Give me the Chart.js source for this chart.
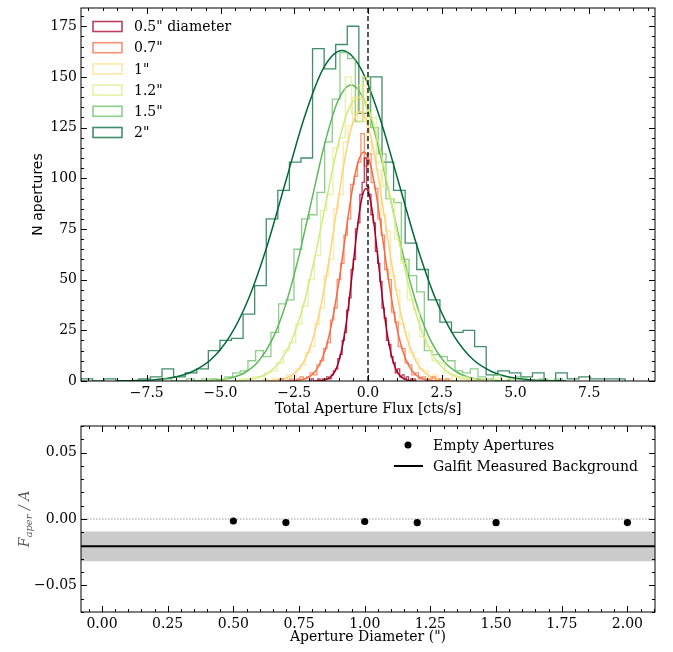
<!DOCTYPE html>
<html>
<head>
<meta charset="utf-8">
<script src="https://cdn.jsdelivr.net/npm/chart.js@4.4.1/dist/chart.umd.min.js"></script>
<style>
  html, body { margin: 0; padding: 0; background: #fff; }
  #wrap { position: relative; width: 673px; height: 652px; }
  canvas { position: absolute; left: 0; }
  #top { top: 0; }
  #bottom { top: 420px; }
</style>
</head>
<body>
<div id="wrap">
  <canvas id="top" width="673" height="420"></canvas>
  <canvas id="bottom" width="673" height="232"></canvas>
</div>
<script>
// ---- top panel: empty-aperture flux histograms ----
const apertureLabels = ['0.5" diameter', '0.7"', '1"', '1.2"', '1.5"', '2"'];
const histLo = [-2.0, -3.0, -4.2, -5.6, -7.19, -9.73];
const histWidth = [0.075, 0.115, 0.16, 0.21, 0.26, 0.3925];

const counts05 = [0,1,0,0,1,0,1,1,2,1,3,5,6,11,13,20,24,35,41,55,60,75,78,92,98,110,96,92,82,78,64,58,49,36,31,20,18,12,9,4,6,2,3,1,2,0,1,1];
const counts07 = [1,0,0,1,0,1,2,1,2,4,3,8,10,16,19,30,36,50,58,72,80,97,101,108,122,106,112,98,95,80,72,55,50,34,29,17,16,9,8,3,4,1,2,0,1,2,0,1,0,1];
const counts10 = [0,1,0,0,1,0,1,0,1,3,2,6,8,14,17,28,36,52,60,85,92,118,126,140,128,150,118,112,104,82,74,52,45,28,24,14,11,6,5,2,3,1,1,0,2,0,1,0,1,0,0,1];
const counts12 = [1,0,0,1,0,0,1,1,2,2,4,5,9,15,19,28,37,50,62,84,92,115,120,150,132,146,128,130,108,96,90,70,58,40,35,22,17,10,9,4,3,2,2,1,0,1,0,1,0,1];
const counts15 = [0,1,0,0,1,0,1,1,0,2,4,5,10,15,12,24,38,40,65,80,82,93,118,139,162,159,128,150,125,112,90,88,60,52,44,15,13,12,10,5,4,6,2,1,3,0,1,2,0,0,1,0,1];
const counts20 = [1,0,1,0,0,1,2,6,2,4,6,15,20,21,33,47,80,94,108,110,164,154,166,175,132,150,108,94,68,55,40,29,24,25,17,3,5,4,2,4,0,4,1,2,1,1,1];

// gaussian fits
const fitStart = [-1.79, -2.76, -3.59, -4.92, -5.97, -8.48];
const fitStep = [0.1433, 0.2183, 0.2767, 0.3833, 0.45, 0.6333];
const fit05 = [0.03,0.11,0.37,1.05,2.7,6.2,12.9,23.7,39.1,57.6,76.1,89.9,95,89.9,76.1,57.6,39.1,23.7,12.9,6.2,2.7,1.05,0.37,0.11,0.03];
const fit07 = [0.04,0.14,0.44,1.25,3.2,7.4,15.3,28.2,46.5,68.5,90.5,106.9,113,106.9,90.5,68.5,46.5,28.2,15.3,7.4,3.2,1.25,0.44,0.14,0.04];
const fit10 = [0.04,0.16,0.51,1.48,3.8,8.7,18.0,33.2,54.7,80.7,106.5,125.8,133,125.8,106.5,80.7,54.7,33.2,18.0,8.7,3.8,1.48,0.51,0.16,0.04];
const fit12 = [0.05,0.17,0.54,1.55,4.0,9.2,18.9,34.9,57.6,84.9,112.1,132.4,140,132.4,112.1,84.9,57.6,34.9,18.9,9.2,4.0,1.55,0.54,0.17,0.05];
const fit15 = [0.05,0.18,0.57,1.62,4.2,9.6,19.8,36.4,60.0,88.5,116.9,138.1,146,138.1,116.9,88.5,60.0,36.4,19.8,9.6,4.2,1.62,0.57,0.18,0.05];
const fit20 = [0.05,0.20,0.63,1.81,4.7,10.7,22.1,40.7,67.0,98.9,130.5,154.2,163,154.2,130.5,98.9,67.0,40.7,22.1,10.7,4.7,1.81,0.63,0.20,0.05];

const fluxTicks = [-7.5, -5, -2.5, 0, 2.5, 5, 7.5];
const countTicks = [0, 25, 50, 75, 100, 125, 150, 175];
const fluxRange = [-9.73, 9.73];
const countRange = [0, 184];
const zeroFlux = 0;

// ---- bottom panel: flux per area vs aperture ----
const diameters = [0.5, 0.7, 1.0, 1.2, 1.5, 2.0];
const fluxPerArea = [-0.0015, -0.0027, -0.0019, -0.0028, -0.0028, -0.0027];
const galfitBg = -0.0205;
const galfitLo = -0.0318;
const galfitHi = -0.0095;
const diamTicks = [0, 0.25, 0.5, 0.75, 1.0, 1.25, 1.5, 1.75, 2.0];
const fpaTicks = [-0.05, 0, 0.05];
const diamRange = [-0.08, 2.105];
const fpaRange = [-0.07, 0.07];

const histColors = ['rgba(165,0,38,0.75)', 'rgba(244,109,67,0.75)', 'rgba(254,224,139,0.75)',
                    'rgba(217,239,139,0.75)', 'rgba(102,189,99,0.75)', 'rgba(0,104,55,0.75)'];
const fitColors = ['#a50026', '#f46d43', '#fdd27c', '#d2ea7f', '#5fb95c', '#006837'];

Chart.defaults.font.family = 'DejaVu Serif';
Chart.defaults.font.size = 14;
Chart.defaults.color = '#000';

const minus = v => String(v).replace('-', '\u2212');
const fmt = d => v => minus(Number(v).toFixed(d));

function stepPoints(lo, w, counts) {
  const pts = [{x: lo, y: 0}];
  counts.forEach((c, i) => pts.push({x: lo + i * w, y: c}));
  pts.push({x: lo + counts.length * w, y: 0});
  return pts;
}

// fixed axis boxes so the plot area lands where the reference has it
const fixX = h => s => { s.height = h; s.paddingLeft = 0; s.paddingRight = 0; };
const fixY = w => s => { s.width = w; s.paddingTop = 0; s.paddingBottom = 0; };

// matplotlib-like frame with inward ticks on all four sides
const frameTicks = {
  id: 'frameTicks',
  afterDatasetsDraw(chart, args, opts) {
    const {ctx, chartArea: a, scales: {x, y}} = chart;
    ctx.save();
    ctx.strokeStyle = '#000';
    ctx.lineWidth = 1;
    ctx.strokeRect(a.left, a.top, a.right - a.left, a.bottom - a.top);
    const minorVals = (s, step) => {
      const out = [];
      for (let v = Math.ceil(s.min / step) * step; v <= s.max + 1e-9; v += step) out.push(v);
      return out;
    };
    ctx.beginPath();
    const drawX = (vals, len) => vals.forEach(v => {
      const px = Math.round(x.getPixelForValue(v)) + 0.5;
      ctx.moveTo(px, a.bottom); ctx.lineTo(px, a.bottom - len);
      ctx.moveTo(px, a.top); ctx.lineTo(px, a.top + len);
    });
    const drawY = (vals, len) => vals.forEach(v => {
      const py = Math.round(y.getPixelForValue(v)) + 0.5;
      ctx.moveTo(a.left, py); ctx.lineTo(a.left + len, py);
      ctx.moveTo(a.right, py); ctx.lineTo(a.right - len, py);
    });
    drawX(minorVals(x, opts.xMinor), 3);
    drawY(minorVals(y, opts.yMinor), 3);
    drawX(x.ticks.map(t => t.value), 6);
    drawY(y.ticks.map(t => t.value), 6);
    ctx.stroke();
    ctx.restore();
  }
};

// axis titles
const axisTitles = {
  id: 'axisTitles',
  afterDraw(chart, args, opts) {
    const {ctx, chartArea: a} = chart;
    ctx.save();
    ctx.fillStyle = '#000';
    ctx.textAlign = 'center';
    ctx.textBaseline = 'middle';
    ctx.font = '14px "DejaVu Serif"';
    ctx.fillText(opts.xTitle, (a.left + a.right) / 2, a.bottom + opts.xTitleOffset);
    ctx.translate(opts.yTitleX, (a.top + a.bottom) / 2);
    ctx.rotate(-Math.PI / 2);
    if (opts.yTitle) {
      ctx.font = opts.yFont;
      ctx.fillText(opts.yTitle, 0, 0);
    } else {
      // F_aper / A in math italics
      ctx.fillStyle = '#5a5a5a';
      ctx.textAlign = 'left';
      const big = 'italic 14px "DejaVu Serif"', small = 'italic 10px "DejaVu Serif"';
      ctx.font = big; const wF = ctx.measureText('F').width;
      ctx.font = small; const wS = ctx.measureText('aper').width;
      ctx.font = big; const wR = ctx.measureText(' / A').width;
      const x0 = -(wF + wS + wR) / 2;
      ctx.fillText('F', x0, 0);
      ctx.font = small; ctx.fillText('aper', x0 + wF, 4);
      ctx.font = big; ctx.fillText(' / A', x0 + wF + wS, 0);
    }
    ctx.restore();
  }
};

// legend drawn inside the axes
const innerLegend = {
  id: 'innerLegend',
  afterDraw(chart, args, opts) {
    const {ctx, chartArea: a} = chart;
    ctx.save();
    ctx.font = '14px "DejaVu Serif"';
    ctx.textBaseline = 'middle';
    ctx.textAlign = 'left';
    opts.items.forEach((it, i) => {
      const cy = a.top + opts.top + i * opts.gap;
      const bx = a.left + opts.left;
      if (it.kind === 'box') {
        ctx.strokeStyle = it.color;
        ctx.lineWidth = 1.6;
        ctx.strokeRect(bx, cy - 5, 29, 10);
      } else if (it.kind === 'dot') {
        ctx.fillStyle = '#000';
        ctx.beginPath();
        ctx.arc(bx + 14, cy, 3.5, 0, Math.PI * 2);
        ctx.fill();
      } else {
        ctx.strokeStyle = '#000';
        ctx.lineWidth = 2;
        ctx.beginPath();
        ctx.moveTo(bx, cy); ctx.lineTo(bx + 29, cy);
        ctx.stroke();
      }
      ctx.fillStyle = '#000';
      ctx.fillText(it.label, bx + opts.textGap, cy + 1);
    });
    ctx.restore();
  }
};

const countSets = [counts05, counts07, counts10, counts12, counts15, counts20];
const fitSets = [fit05, fit07, fit10, fit12, fit15, fit20];

const topDatasets = [{
  data: [{x: zeroFlux, y: countRange[0]}, {x: zeroFlux, y: countRange[1]}],
  borderColor: '#000', borderWidth: 1.3, borderDash: [5, 3], pointRadius: 0
}];
for (let k = 0; k < 6; k++) {
  topDatasets.push({
    data: fitSets[k].map((v, i) => ({x: fitStart[k] + i * fitStep[k], y: v})),
    borderColor: fitColors[k], borderWidth: 1.5, pointRadius: 0,
    cubicInterpolationMode: 'monotone'
  });
  topDatasets.push({
    label: apertureLabels[k],
    data: stepPoints(histLo[k], histWidth[k], countSets[k]),
    borderColor: histColors[k], borderWidth: 1.3, pointRadius: 0, stepped: true
  });
}

new Chart(document.getElementById('top'), {
  type: 'line',
  data: {datasets: topDatasets},
  options: {
    responsive: false,
    animation: false,
    layout: {padding: {left: 0, right: 18, top: 8, bottom: 0}},
    plugins: {
      legend: {display: false},
      tooltip: {enabled: false},
      frameTicks: {xMinor: 0.5, yMinor: 5},
      axisTitles: {xTitle: 'Total Aperture Flux [cts/s]', xTitleOffset: 28,
                   yTitle: 'N apertures', yTitleX: 38, yFont: '14px "DejaVu Sans"'},
      innerLegend: {
        left: 12, top: 18.5, gap: 21.2, textGap: 41,
        items: apertureLabels.map((l, k) => ({kind: 'box', label: l, color: histColors[k]}))
      }
    },
    scales: {
      x: {
        type: 'linear', min: fluxRange[0], max: fluxRange[1],
        grid: {display: false, drawTicks: false}, border: {display: false},
        afterBuildTicks: s => { s.ticks = fluxTicks.map(v => ({value: v})); },
        ticks: {callback: fmt(1), padding: 4, maxRotation: 0, autoSkip: false},
        afterFit: fixX(39)
      },
      y: {
        type: 'linear', min: countRange[0], max: countRange[1],
        grid: {display: false, drawTicks: false}, border: {display: false},
        afterBuildTicks: s => { s.ticks = countTicks.map(v => ({value: v})); },
        ticks: {callback: v => String(v), padding: 4},
        afterFit: fixY(81)
      }
    }
  },
  plugins: [frameTicks, axisTitles, innerLegend]
});

new Chart(document.getElementById('bottom'), {
  type: 'line',
  data: {
    datasets: [
      {data: diameters.map((d, i) => ({x: d, y: fluxPerArea[i]})), showLine: false,
       pointRadius: 3.6, pointBackgroundColor: '#000', pointBorderWidth: 0},
      {data: [{x: diamRange[0], y: galfitBg}, {x: diamRange[1], y: galfitBg}],
       borderColor: '#000', borderWidth: 2, pointRadius: 0},
      {data: [{x: diamRange[0], y: 0}, {x: diamRange[1], y: 0}],
       borderColor: '#555', borderWidth: 0.6, borderDash: [1.5, 1.5], pointRadius: 0},
      {data: [{x: diamRange[0], y: galfitHi}, {x: diamRange[1], y: galfitHi}],
       borderWidth: 0, pointRadius: 0, fill: '+1', backgroundColor: '#cbcbcb'},
      {data: [{x: diamRange[0], y: galfitLo}, {x: diamRange[1], y: galfitLo}],
       borderWidth: 0, pointRadius: 0}
    ]
  },
  options: {
    responsive: false,
    animation: false,
    layout: {padding: {left: 0, right: 18, top: 6, bottom: 0}},
    plugins: {
      legend: {display: false},
      tooltip: {enabled: false},
      frameTicks: {xMinor: 0.05, yMinor: 0.01},
      axisTitles: {xTitle: 'Aperture Diameter (")', xTitleOffset: 25, yTitle: null, yTitleX: 25},
      innerLegend: {
        left: 313, top: 19, gap: 21, textGap: 39,
        items: [{kind: 'dot', label: 'Empty Apertures'}, {kind: 'line', label: 'Galfit Measured Background'}]
      }
    },
    scales: {
      x: {
        type: 'linear', min: diamRange[0], max: diamRange[1],
        grid: {display: false, drawTicks: false}, border: {display: false},
        afterBuildTicks: s => { s.ticks = diamTicks.map(v => ({value: v})); },
        ticks: {callback: fmt(2), padding: 4, maxRotation: 0, autoSkip: false},
        afterFit: fixX(40)
      },
      y: {
        type: 'linear', min: fpaRange[0], max: fpaRange[1],
        grid: {display: false, drawTicks: false}, border: {display: false},
        afterBuildTicks: s => { s.ticks = fpaTicks.map(v => ({value: v})); },
        ticks: {callback: fmt(2), padding: 4},
        afterFit: fixY(81)
      }
    }
  },
  plugins: [frameTicks, axisTitles, innerLegend]
});
</script>
</body>
</html>
